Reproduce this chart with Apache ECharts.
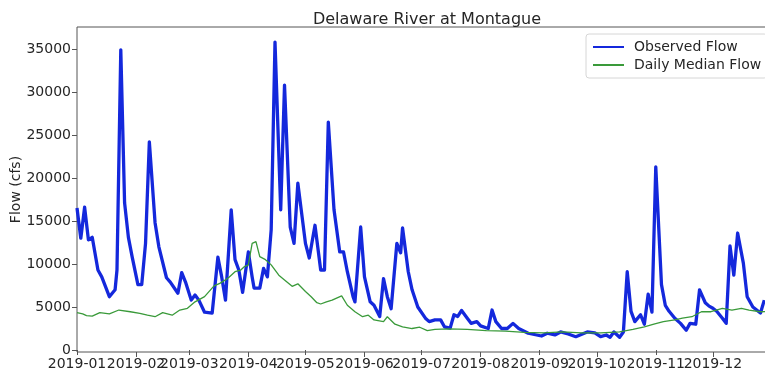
<!DOCTYPE html>
<html>
<head>
<meta charset="utf-8">
<title>Delaware River at Montague</title>
<script src="https://cdn.jsdelivr.net/npm/echarts@6/dist/echarts.min.js"></script>
<style>
  html, body { margin: 0; padding: 0; background: #fff; }
  #chart { width: 765px; height: 379px; }
</style>
</head>
<body>
<div id="chart"></div>
<script>
// Daily streamflow, Delaware River at Montague, 2019 (day of year, cfs)
const obsDays = [0, 2, 4, 6, 8, 11, 13, 17, 20, 21, 23, 25, 27, 29, 32, 34, 36, 38, 41, 43, 47, 49, 53, 55, 57, 60, 62, 64, 67, 71, 74, 76, 78, 81, 83, 85, 87, 90, 92, 93, 96, 98, 100, 102, 104, 107, 109, 112, 114, 116, 120, 122, 125, 128, 130, 132, 135, 138, 140, 142, 143, 145, 146, 149, 151, 154, 156, 159, 161, 163, 165, 168, 170, 171, 174, 176, 179, 183, 185, 188, 191, 193, 196, 198, 200, 202, 205, 207, 210, 212, 216, 218, 220, 223, 226, 229, 232, 237, 244, 247, 251, 254, 258, 262, 268, 272, 275, 278, 280, 282, 285, 287, 289, 291, 293, 296, 298, 300, 302, 304, 307, 309, 311, 314, 317, 320, 322, 325, 327, 330, 332, 334, 336, 339, 341, 343, 345, 347, 350, 352, 355, 357, 359, 361];
const obsFlow = [16500, 13000, 16600, 12800, 13100, 9300, 8500, 6200, 7000, 9300, 34900, 17100, 13100, 10800, 7600, 7600, 12400, 24200, 14800, 12000, 8400, 7900, 6600, 9000, 7900, 5800, 6400, 5800, 4400, 4300, 10800, 8500, 5800, 16300, 10500, 9300, 6700, 11400, 8500, 7200, 7200, 9500, 8500, 14000, 35800, 16300, 30800, 14300, 12400, 19400, 12400, 10700, 14500, 9300, 9300, 26500, 16300, 11400, 11400, 9100, 9300, 6200, 5600, 14300, 8500, 5600, 5200, 3900, 8300, 6200, 4800, 12400, 11300, 14200, 9100, 7000, 5000, 3700, 3300, 3500, 3500, 2700, 2550, 4100, 3900, 4600, 3700, 3100, 3300, 2800, 2500, 4650, 3300, 2500, 2500, 3100, 2500, 1950, 1630, 1950, 1750, 2100, 1860, 1550, 2100, 2000, 1550, 1750, 1480, 2100, 1480, 2100, 9100, 4500, 3300, 4100, 3000, 6500, 4400, 21300, 7600, 5200, 4500, 3700, 3100, 2300, 3100, 3000, 7000, 5500, 5100, 4850, 4500, 3700, 3100, 12100, 8700, 13600, 10100, 6200, 5000, 4650, 4300, 5800];

const medDays = [0, 3, 5, 8, 12, 17, 22, 28, 33, 37, 41, 45, 50, 54, 58, 62, 67, 72, 75, 78, 80, 83, 86, 88, 90, 91, 92, 94, 96, 99, 102, 106, 109, 113, 116, 120, 123, 126, 128, 131, 134, 139, 142, 146, 150, 153, 156, 161, 163, 167, 171, 176, 180, 184, 188, 195, 205, 215, 225, 235, 245, 255, 265, 275, 285, 292, 298, 303, 308, 314, 318, 323, 328, 333, 339, 344, 349, 353, 359, 364];
const medFlow = [4350, 4200, 4000, 3950, 4350, 4200, 4650, 4450, 4250, 4050, 3870, 4350, 4050, 4650, 4850, 5600, 6200, 7450, 7750, 8150, 8500, 9100, 9300, 9700, 9900, 10100, 12400, 12600, 10850, 10500, 9900, 8700, 8150, 7400, 7700, 6800, 6200, 5500, 5350, 5600, 5800, 6300, 5200, 4450, 3870, 4050, 3500, 3300, 3870, 3000, 2700, 2500, 2650, 2250, 2400, 2450, 2400, 2250, 2200, 2050, 2000, 2100, 2000, 2000, 2100, 2400, 2700, 3000, 3300, 3500, 3700, 3870, 4450, 4450, 4850, 4650, 4850, 4650, 4450, 4500];

// Month starts (day of year) and their tick labels
const monthDays = [0, 31, 59, 90, 120, 151, 181, 212, 243, 273, 304, 334];
const monthLabels = ['2019-01', '2019-02', '2019-03', '2019-04', '2019-05', '2019-06',
                     '2019-07', '2019-08', '2019-09', '2019-10', '2019-11', '2019-12'];
const flowTicks = [0, 5000, 10000, 15000, 20000, 25000, 30000, 35000];

const zip = (xs, ys) => xs.map((x, i) => [x, ys[i]]);

const FONT = 'DejaVu Sans';
const TEXT = '#262626';
const SPINE = '#555';

// The month labels sit almost edge to edge, so they are split over two
// coincident x axes (odd and even months) to keep every label drawn.
const oddMonths = monthDays.filter((d, i) => i % 2 === 0);
const evenMonths = monthDays.filter((d, i) => i % 2 === 1);
const monthAxis = (days) => ({
  type: 'value',
  min: 0,
  max: 364,
  position: 'bottom',
  axisLine: { show: false },
  splitLine: { show: false },
  axisTick: { show: true, length: 5, lineStyle: { color: SPINE }, customValues: days },
  axisLabel: {
    customValues: days,
    showMinLabel: true,
    showMaxLabel: true,
    hideOverlap: false,
    formatter: v => monthLabels[monthDays.indexOf(Math.round(v))] || '',
    fontFamily: FONT, fontSize: 14, color: TEXT, margin: 5
  }
});

const chart = echarts.init(document.getElementById('chart'), null, { renderer: 'canvas' });

chart.setOption({
  animation: false,
  backgroundColor: '#ffffff',
  textStyle: { fontFamily: FONT },
  title: {
    text: 'Delaware River at Montague',
    left: 422,
    textAlign: 'center',
    top: 7,
    textStyle: { fontFamily: FONT, fontSize: 16, fontWeight: 'normal', color: TEXT }
  },
  legend: {
    orient: 'vertical',
    left: 586,
    top: 34,
    padding: [6, 6, 6, 6],
    itemGap: 4,
    itemWidth: 31,
    itemHeight: 14,
    backgroundColor: 'rgba(255,255,255,0.85)',
    borderColor: '#d6d6d6',
    borderWidth: 1,
    borderRadius: 3,
    // plain line handles, no marker in the middle
    itemStyle: { opacity: 0 },
    textStyle: { fontFamily: FONT, fontSize: 14, color: TEXT, padding: [0, 0, 0, 5] },
    data: ['Observed Flow', 'Daily Median Flow']
  },
  grid: {
    left: 77, top: 27, right: -5, bottom: 27,
    outerBoundsMode: 'none',
    containLabel: false,
    show: true, borderColor: SPINE, borderWidth: 1, backgroundColor: 'transparent'
  },
  xAxis: [monthAxis(oddMonths), monthAxis(evenMonths)],
  yAxis: {
    type: 'value',
    min: -230,
    max: 37550,
    name: 'Flow (cfs)',
    nameLocation: 'middle',
    nameRotate: 90,
    nameGap: 54,
    nameMoveOverlap: false,
    nameTextStyle: { fontFamily: FONT, fontSize: 14, color: TEXT },
    axisLine: { show: false },
    splitLine: { show: false },
    axisTick: {
      show: true, length: 5, lineStyle: { color: SPINE },
      customValues: flowTicks
    },
    axisLabel: {
      customValues: flowTicks,
      showMinLabel: true,
      showMaxLabel: true,
      formatter: v => String(v),
      fontFamily: FONT, fontSize: 14, color: TEXT, margin: 6
    }
  },
  series: [
    {
      name: 'Observed Flow',
      type: 'line',
      xAxisIndex: 0,
      data: zip(obsDays, obsFlow),
      symbol: 'none',
      showSymbol: false,
      lineStyle: { color: '#1428dc', width: 3.3, join: 'round' },
      itemStyle: { color: '#1428dc' }
    },
    {
      name: 'Daily Median Flow',
      type: 'line',
      xAxisIndex: 0,
      data: zip(medDays, medFlow),
      symbol: 'none',
      showSymbol: false,
      lineStyle: { color: '#3a9a3a', width: 1.3 },
      itemStyle: { color: '#3a9a3a' }
    }
  ]
});
</script>
</body>
</html>
